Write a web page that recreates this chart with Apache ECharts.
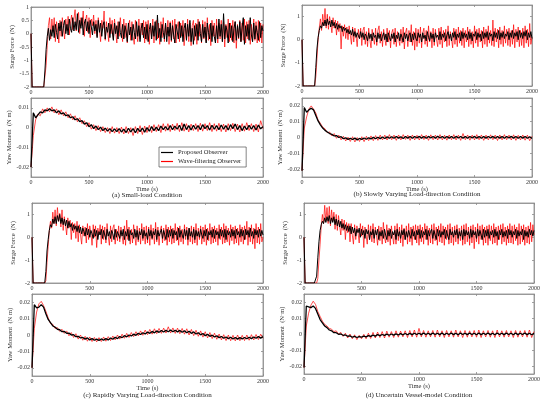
<!DOCTYPE html>
<html>
<head>
<meta charset="utf-8">
<script src="https://cdn.jsdelivr.net/npm/echarts@6/dist/echarts.min.js"></script>
<style>
html, body { margin: 0; padding: 0; background: #fff; }
#chart { width: 550px; height: 402px; }
</style>
</head>
<body>
<div id="chart"></div>
<script>
var surgeDt = 10;   // s between surge samples
var yawDt = 20;     // s between yaw samples
// yaw arrays are written in 10^-3 N·m
var yawUnit = 0.001;

var seriesNames = ['Proposed Observer', 'Wave-filtering Observer'];
var captions = [
  '(a) Small-load Condition',
  '(b) Slowly Varying Load-direction Condition',
  '(c) Rapidly Varying Load-direction Condition',
  '(d) Uncertain Vessel-model Condition'
];
var timeTicks = [0, 500, 1000, 1500, 2000];
var surgeTicksA = [-2, -1.5, -1, -0.5, 0, 0.5, 1];
var surgeTicks = [-2, -1, 0, 1];
var yawTicksA = [-0.02, -0.01, 0, 0.01];
var yawTicks = [-0.02, -0.01, 0, 0.01, 0.02];

// (a) small load
var aSurgeProp = [
  0,-2,-2,-2,-2,-2,-2,-2,-2,-2,-2,-2,-1.4,-0.6,-0.1,0.2,-0.25,0.15,-0.1,0.3,
  -0.15,0.35,0.05,-0.2,0.4,0.1,0.45,-0.1,0.3,0.5,0,0.35,-0.05,0.55,0.2,0.05,0.6,0.1,0.45,0.15,
  0.75,0.05,0.5,0.2,0.6,-0.05,0.4,0.55,0.1,0.45,0,0.5,0.25,-0.05,0.45,0.1,0.35,-0.15,0.5,0.05,
  0.4,-0.1,0.3,0.45,-0.2,0.25,0.05,0.4,-0.15,0.35,0.1,-0.25,0.4,0,0.3,-0.2,0.45,0.05,-0.15,0.35,
  -0.2,0.3,0.1,-0.3,0.4,-0.05,0.25,-0.25,0.35,0.05,-0.2,0.45,-0.1,0.3,-0.3,0.2,0.4,-0.15,0.25,-0.2,
  0.35,-0.3,0.15,0.4,-0.2,0.3,-0.1,0.45,-0.25,0.7,-0.15,0.2,-0.3,0.35,0.05,-0.2,0.4,-0.3,0.25,-0.1,
  0.4,-0.25,0.3,-0.05,-0.35,0.35,0.1,-0.2,0.45,-0.15,0.3,-0.3,0.2,0.4,-0.25,0.35,-0.1,0.5,-0.3,0.2,
  -0.4,0.3,-0.1,0.35,-0.25,0.45,0,-0.3,0.35,-0.15,0.25,-0.35,0.4,0.05,-0.2,0.4,-0.3,0.3,-0.1,-0.35,
  0.3,-0.2,0.55,-0.1,0.35,-0.3,0.75,-0.2,0.3,0.1,-0.35,0.4,-0.15,0.3,-0.3,0.2,0.45,-0.25,0.3,-0.15,
  0.45,-0.3,0.25,0.6,-0.4,0.3,-0.1,0.35,-0.25,0.6,-0.05,-0.3,0.4,-0.2,0.3,0.05,-0.25,0.45,-0.15,0.3,
  0.1
];
var aSurgeWave = [
  0,-2,-2,-2,-2,-2,-2,-2,-2,-2,-2,-2,-2,-1.2,-0.45,0.3,0.6,-0.2,0.55,0.05,
  0.6,-0.3,0.45,0.1,-0.35,0.5,-0.1,0.6,0.2,-0.2,0.55,0.1,0.65,-0.05,0.4,0.7,0.15,0.55,0.9,0.1,
  0.5,0.8,0,0.6,0.3,0.85,-0.1,0.5,0.7,0.05,0.6,-0.15,0.55,0.3,0.7,0,0.5,-0.1,0.6,0.15,
  -0.3,0.5,0.2,0.85,-0.25,0.45,0.1,-0.3,0.6,0,0.5,-0.2,0.55,0.1,-0.35,0.45,-0.1,0.6,0.05,-0.3,
  0.55,-0.15,0.4,-0.35,0.3,0.5,-0.25,0.45,-0.1,-0.4,0.5,0.05,-0.3,0.55,-0.2,0.4,-0.05,0.5,-0.35,0.45,
  -0.25,0.5,-0.4,0.35,-0.1,0.55,-0.35,0.3,0.5,-0.2,0.4,-0.4,0.45,-0.15,0.6,-0.3,0.35,-0.05,0.5,-0.4,
  0.45,-0.3,0.5,-0.2,0.55,-0.35,0.25,0.45,-0.3,0.4,-0.1,0.5,-0.45,0.35,-0.2,0.55,-0.3,0.4,-0.45,0.3,
  0.5,-0.25,0.4,-0.4,0.55,-0.1,0.35,-0.35,0.5,-0.2,0.45,-0.3,0.6,-0.25,0.35,-0.45,0.5,-0.1,0.4,-0.3,
  0.55,-0.35,0.4,-0.2,0.5,-0.3,0.45,-0.5,0.35,-0.15,0.55,-0.3,0.4,-0.25,0.5,-0.35,0.45,-0.55,0.35,-0.2,
  0.5,-0.3,0.4,-0.25,0.55,-0.35,0.45,-0.2,0.5,-0.4,0.35,-0.3,0.55,-0.25,0.45,-0.35,0.5,-0.3,0.4,-0.35,
  0.35
];
var aYawProp = [
  -20,7.5,5,6.5,8,7.5,9,8.5,9.5,8.5,
  9,7.5,8.5,7,7.5,6,6.5,5,5.5,4,
  4.5,3,3.5,1.8,2.5,0.5,1.5,-0.5,0.8,-1,
  0.2,-1.5,-0.3,-1.8,-0.5,-2,-0.6,-2,-0.5,-2.2,
  -0.8,-2.5,-0.3,-2.2,-0.5,-2.6,-0.4,-2,-0.2,-2.3,
  0,-1.8,0.5,-1.5,0.3,-1.5,0.8,-1,0.5,-1.2,
  1,-1,0.8,-0.8,1.2,-1.5,1.8,-1,1,-1.2,
  1.2,-0.8,1,-1,1.5,-0.5,1,-1.2,1.2,-0.8,
  1,-1,1.3,-0.8,1,-1.2,1.5,-0.5,1.8,-1,
  1,-1.5,0.8,-1,1.2,-0.8,1,-1.2,1.3,-0.6,
  0.5
];
var aYawWave = [
  -20,-4,4,7,6,9.5,7.5,10,8,10.5,
  7.5,9.5,6.5,9,6,8,5,7,4,6,
  3,5,2,3.5,0.5,2.5,-0.8,1.5,-1.5,1,
  -2,0.5,-2.5,0,-3,0.5,-2.8,0,-3,0.3,
  -3.2,0.5,-3,0,-4,0.5,-3,1,-3.5,0.8,
  -2.5,1.2,-2.5,1.5,-2,1.5,-2.5,2,-1.8,2,
  -2,1.8,-1.5,2.2,-2,2.5,-1.8,2,-2.2,1.8,
  -1.5,2,-2,2.2,-1.8,2,-1.5,2.5,-2,2,
  -1.8,2.2,-2,1.8,-2.2,2,-1.5,2.2,-2,1.8,
  -2.2,2,-1.8,2.5,-1.5,2,-2,1.8,-2.2,3.5,
  -0.5
];

// (b) slowly varying load direction
var bSurgeProp = [
  0,-2,-2,-2,-2,-2,-2,-2,-2,-2,-2,-2,-1.2,-0.4,0.1,0.4,0.6,0.5,0.75,0.6,
  0.85,0.6,0.9,0.65,0.8,0.55,0.85,0.6,0.75,0.5,0.7,0.45,0.65,0.5,0.6,0.35,0.55,0.4,0.5,0.3,
  0.45,0.25,0.4,0.2,0.45,0.15,0.35,0.1,0.3,0.25,0.05,0.35,0.1,0.3,0,0.25,0.15,-0.05,0.3,0.05,
  0.25,-0.05,0.3,0.1,0.2,-0.1,0.3,0.05,0.25,-0.05,0.15,0.3,0,0.25,-0.1,0.3,0.1,-0.05,0.25,0.05,
  0.3,-0.1,0.2,0.05,0.3,-0.05,0.25,0.1,-0.1,0.3,0.05,0.25,-0.05,0.2,0.3,-0.1,0.25,0,0.3,0.05,
  -0.05,0.3,0.1,0.25,-0.1,0.3,0.05,0.2,-0.05,0.35,0.1,-0.05,0.3,0.05,0.25,-0.1,0.3,0.1,0.2,0,
  0.35,0,0.25,0.1,0.3,-0.05,0.2,0.35,0.05,0.25,-0.05,0.3,0.1,0.35,0,0.25,0.1,0.3,-0.05,0.35,
  0.05,0.3,0.1,0.25,0,0.35,0.05,0.3,-0.05,0.25,0.15,0.35,0,0.3,0.1,0.25,-0.05,0.35,0.05,0.3,
  0.1,0.35,0,0.3,0.15,0.25,-0.05,0.35,0.1,0.3,0.05,0.4,0,0.3,0.1,0.35,0.05,0.25,0.15,0.35,
  0,0.3,0.1,0.4,0.05,0.3,0.15,0.35,0,0.4,0.1,0.3,0.05,0.35,0.15,0.4,0,0.3,0.1,0.35,
  0.05
];
var bSurgeWave = [
  0,-2,-2,-2,-2,-2,-2,-2,-2,-2,-2,-2,-1.6,-0.8,0,0.5,0.9,0.4,1.1,0.6,
  1.35,0.5,1.1,0.45,1,0.7,0.3,0.95,0.5,0.85,0.2,0.8,0.35,0.7,-0.4,0.6,0.15,0.65,0.05,0.55,
  0,0.6,0.2,-0.2,0.55,-0.1,0.5,0.15,-0.3,0.45,0.05,0.5,-0.25,0.4,0.55,-0.2,0.35,-0.3,0.5,0,
  -0.35,0.45,0.1,-0.2,0.5,-0.25,0.4,0.6,-0.15,0.35,-0.3,0.45,0.05,-0.25,0.5,-0.1,0.4,-0.35,0.3,0.45,
  -0.2,0.5,-0.3,0.35,0.05,-0.25,0.45,-0.15,0.55,-0.4,0.3,0.5,-0.3,0.4,-0.1,0.65,-0.25,0.35,-0.45,0.5,
  -0.3,0.45,-0.15,0.55,-0.35,0.3,0.5,-0.2,0.4,-0.3,0.6,-0.1,0.35,-0.35,0.5,-0.25,0.45,0,-0.3,0.5,
  -0.2,0.55,-0.35,0.4,-0.1,0.45,-0.3,0.6,-0.25,0.35,0.05,-0.35,0.5,-0.2,0.45,-0.3,0.55,-0.15,0.4,-0.25,
  0.5,-0.35,0.4,-0.1,0.55,-0.3,0.45,-0.2,0.35,-0.35,0.6,-0.15,0.45,-0.3,0.5,-0.1,0.4,-0.35,0.55,-0.2,
  0.45,-0.3,0.6,-0.15,0.4,-0.25,0.85,-0.3,0.5,-0.1,0.45,-0.35,0.55,-0.2,0.4,-0.3,0.6,-0.15,0.45,-0.25,
  0.5,-0.3,0.4,-0.2,0.65,-0.35,0.45,-0.1,0.55,-0.3,0.4,-0.25,0.5,-0.35,0.6,-0.15,0.45,-0.3,0.7,-0.2,
  0.1
];
var bYawProp = [
  -21,19,16,17.5,18.5,17.5,14,10.5,8,6,
  4.5,3.5,2.5,2,1,1.2,0,0.5,-0.8,-0.2,
  -1.2,-0.5,-1.3,-0.4,-1.5,-0.6,-1.2,-0.3,-1.1,-0.2,
  -0.9,0.1,-0.8,0.2,-0.7,0.3,-0.6,0.4,-0.5,0.5,
  -0.5,0.6,-0.4,0.5,-0.6,0.6,-0.4,0.7,-0.5,0.6,
  -0.3,0.7,-0.4,0.6,-0.5,0.7,-0.3,0.6,-0.4,0.8,
  -0.3,0.6,-0.5,0.7,-0.4,0.6,-0.5,0.7,-0.3,0.6,
  -0.4,0.7,-0.5,0.6,-0.3,0.7,-0.4,0.6,-0.5,0.7,
  -0.4,0.6,-0.3,0.7,-0.5,0.6,-0.4,0.7,-0.5,0.6,
  -0.3,0.7,-0.4,0.6,-0.5,0.7,-0.4,0.6,-0.5,0.5,
  -0.6
];
var bYawWave = [
  -21,6,13,18,20,18,15.5,11,9,6.5,
  5.5,3,3.5,1,2.5,-0.5,1.5,-1.5,0.8,-2.2,
  0.2,-2.5,0.5,-2.8,0,-2.5,0.5,-2.6,0.8,-2,
  1,-2,1.2,-1.8,1.5,-1.5,1.5,-1.6,1.8,-1.4,
  1.5,-1.8,1.6,-1.5,1.8,-1.2,1.5,-1.8,1.6,-1.5,
  1.4,-1.6,1.8,-1.3,1.5,-1.8,1.7,-1.4,1.5,-1.6,
  1.8,-1.5,1.4,-1.7,1.6,-1.4,1.8,-1.5,1.5,-1.8,
  2.5,-1.4,1.6,-1.7,1.5,-1.5,1.8,-1.4,1.6,-1.8,
  1.5,-1.5,1.7,-1.4,1.5,-1.9,1.6,-1.5,1.8,-1.4,
  1.5,-1.6,1.7,-1.8,1.4,-1.5,1.6,-1.7,1.5,-2,
  0.8
];

// (c) rapidly varying load direction
var cSurgeProp = [
  0,-2,-2,-2,-2,-2,-2,-2,-2,-2,-2,-2,-1.5,-0.6,-0.1,0.3,0.55,0.45,0.8,0.6,
  0.9,0.6,0.95,0.7,1,0.6,0.85,0.55,0.8,0.5,0.75,0.4,0.7,0.45,0.6,0.3,0.55,0.35,0.5,0.25,
  0.5,0.2,0.45,0.15,0.4,0.25,0.05,0.4,0.1,0.35,0,0.3,0.15,-0.05,0.35,0.05,0.3,-0.1,0.25,0.1,
  0.35,-0.05,0.3,0.1,-0.1,0.35,0.05,0.25,-0.05,0.3,0.15,-0.1,0.35,0,0.25,0.1,-0.05,0.3,0.05,0.35,
  -0.1,0.25,0.05,0.35,-0.15,0.3,0.1,0.2,-0.05,0.35,0,0.3,-0.1,0.25,0.1,0.35,-0.05,0.3,0.05,0.2,
  -0.1,0.35,0.05,0.3,-0.05,0.25,0.1,0.35,-0.1,0.3,0.05,0.2,0.35,-0.05,0.3,0.1,-0.1,0.35,0,0.3,
  0.05,0.35,-0.05,0.3,0.1,0.25,-0.1,0.4,0,0.3,0.1,-0.05,0.35,0.05,0.3,-0.1,0.4,0.05,0.25,0,
  0.35,-0.1,0.3,0.05,0.25,0,0.35,0.1,-0.05,0.3,0.05,0.35,-0.1,0.25,0.1,0.3,0,0.35,-0.05,0.3,
  0.1,0.25,-0.05,0.35,0.05,0.3,0,0.35,-0.1,0.3,0.1,0.25,0,0.35,0.05,0.3,-0.05,0.35,0.1,0.25,
  0,0.35,0.05,0.3,-0.1,0.35,0.1,0.3,0,0.4,0.05,0.25,-0.05,0.35,0.1,0.3,0,0.35,0.05,0.3,
  0.1
];
var cSurgeWave = [
  0,-2,-2,-2,-2,-2,-2,-2,-2,-2,-2,-2,-1.9,-1.1,-0.4,0.3,0.7,0.4,1.1,0.6,
  1.2,0.5,1.3,0.7,1.05,0.45,1.2,0.3,0.9,0.55,0.1,0.85,0.4,0.75,-0.1,0.65,0.2,0.6,-0.05,0.7,
  -0.2,0.55,0.1,-0.3,0.5,0.05,0.45,-0.25,0.6,-0.1,0.5,0.2,-0.35,0.55,0,0.5,-0.45,0.4,0.1,0.55,
  -0.3,0.5,-0.1,0.45,-0.25,0.6,0.05,-0.35,0.5,-0.2,0.4,0.55,-0.3,0.35,-0.15,0.5,-0.2,0.45,0.05,-0.3,
  0.5,-0.35,0.75,-0.1,0.45,-0.3,0.35,-0.25,0.55,0.05,-0.35,0.5,-0.2,0.4,-0.3,0.6,-0.15,0.45,-0.3,0.5,
  -0.25,0.45,-0.35,0.55,-0.1,0.4,-0.3,0.65,-0.2,0.45,-0.35,0.3,0.5,-0.25,0.4,-0.15,0.55,-0.35,0.45,-0.2,
  0.5,-0.3,0.4,-0.25,0.6,-0.15,0.45,-0.35,0.5,-0.2,0.35,-0.3,0.55,-0.1,0.45,-0.35,0.4,-0.2,0.5,-0.3,
  0.45,-0.25,0.6,-0.35,0.4,-0.1,0.5,-0.3,0.45,-0.2,0.55,-0.35,0.4,-0.15,0.6,-0.3,0.45,-0.25,0.5,-0.2,
  0.4,-0.35,0.55,-0.1,0.45,-0.3,0.6,-0.25,0.5,-0.2,0.4,-0.35,0.55,-0.15,0.45,-0.3,0.5,-0.25,0.4,-0.35,
  0.55,-0.2,0.45,-0.3,0.5,-0.1,0.7,-0.35,0.45,-0.2,0.55,-0.3,0.4,-0.5,0.6,-0.25,0.45,-0.3,0.6,-0.2,
  0
];
var cYawProp = [
  -20,18.5,16.5,17,18.5,17,13,9.5,7.5,5.5,
  4.8,3.5,3.2,2,2.2,1,1.2,0,0.2,-1,
  -0.8,-1.8,-1.5,-2.5,-1.8,-3,-2.2,-3.2,-2.5,-3.3,
  -2.4,-3.2,-2.2,-3,-1.8,-2.6,-1.4,-2.2,-0.9,-1.6,
  -0.4,-1.1,0,-0.6,0.5,-0.2,1,0.3,1.4,0.6,
  1.8,1,2.2,1.3,2.5,1.6,2.8,1.8,2.9,2,
  3,2,2.9,1.9,2.8,1.7,2.6,1.4,2.3,1,
  1.9,0.6,1.4,0.1,0.9,-0.4,0.4,-0.8,-0.1,-1.2,
  -0.5,-1.6,-0.9,-2,-1.2,-2.2,-1.4,-2.4,-1.5,-2.5,
  -1.6,-2.4,-1.5,-2.3,-1.4,-2.2,-1.2,-2,-1,-1.9,
  -1
];
var cYawWave = [
  -20,4,14,19,20.5,18,14.5,10.5,7,6.5,
  4,4.5,2.2,3.5,1,2.5,-0.5,1.5,-1.5,0.8,
  -2.5,0,-3.2,-0.8,-3.8,-1.2,-4,-1.5,-4.2,-1.6,
  -4,-1.2,-3.8,-1,-3.4,-0.6,-3,0,-2.5,0.5,
  -2,1,-1.5,1.5,-1,2,-0.5,2.5,-0.2,3,
  0.2,3.4,0.5,3.8,0.8,4,1,4.2,1.2,5,
  1.2,4.3,1,4.2,0.8,4,0.5,3.8,0,3.4,
  -0.4,2.9,-0.8,2.5,-1.3,2,-1.8,1.5,-2.2,1.1,
  -2.6,0.6,-3,0.2,-3.4,0,-3.5,-0.2,-3.6,0,
  -3.5,-0.2,-3.4,0,-3.2,0.2,-3,0.3,-2.8,0.5,
  -2
];

// (d) uncertain vessel model
var dSurgeProp = [
  0,-2,-2,-2,-2,-2,-2,-2,-2,-2,-2,-1.7,-0.9,-0.2,0.3,0.55,0.7,0.6,0.85,0.65,
  0.9,0.7,0.95,0.6,0.85,0.65,0.9,0.55,0.8,0.5,0.75,0.45,0.7,0.4,0.6,0.35,0.55,0.3,0.5,0.25,
  0.5,0.15,0.45,0.2,0.4,0.05,0.35,0.2,0.4,0,0.35,0.1,0.3,-0.05,0.35,0.15,0.3,-0.1,0.25,0.1,
  0.35,-0.05,0.3,0.1,0.35,-0.1,0.25,0.05,0.3,-0.05,0.35,0.1,-0.1,0.3,0.05,0.35,-0.05,0.25,0.1,0.3,
  -0.1,0.35,0.05,0.25,-0.05,0.3,0.1,0.35,-0.1,0.25,0,0.3,0.1,-0.05,0.35,0.05,0.25,-0.1,0.3,0.1,
  0.35,-0.05,0.3,0,0.25,0.1,0.35,-0.1,0.3,0.05,0.25,0.35,-0.05,0.3,0.1,-0.1,0.35,0.05,0.3,0,
  0.25,0.1,0.35,-0.05,0.3,0.05,-0.1,0.35,0.1,0.25,0,0.3,0.1,0.35,-0.05,0.25,0.05,0.3,-0.1,0.35,
  0.05,0.3,0.1,0.25,-0.05,0.35,0,0.3,0.1,0.25,-0.05,0.35,0.05,0.3,0.1,-0.1,0.35,0,0.3,0.05,
  0.35,-0.05,0.25,0.1,0.3,0,0.35,0.05,0.25,-0.1,0.3,0.1,0.35,0,0.25,0.05,0.3,-0.05,0.35,0.1,
  0.3,0,0.25,0.1,0.35,-0.05,0.3,0.05,0.25,0.1,0.35,-0.1,0.3,0.05,0.25,0,0.35,0.1,0.3,0.05,
  0.3
];
var dSurgeWave = [
  0,-2,-2,-2,-2,-2,-2,-2,-2,-2,-2,-2,-1.8,-1,-0.3,0.5,1,0.6,1.4,0.7,
  1.3,0.6,1.35,0.5,1.2,0.7,1.1,0.35,1,0.3,0.95,0.5,0.1,0.8,0.3,0.75,-0.1,0.65,0.2,0.6,
  -0.2,0.6,0.1,-0.3,0.55,-0.1,0.5,0.2,-0.25,0.6,0.05,0.5,-0.45,0.45,0.1,-0.3,0.55,-0.1,0.5,-0.2,
  0.6,-0.25,0.45,0.1,-0.35,0.5,-0.15,0.45,-0.3,0.65,0,-0.25,0.55,-0.2,0.4,-0.35,0.5,0.05,-0.3,0.5,
  -0.3,0.6,-0.15,0.45,-0.25,0.55,-0.4,0.4,-0.1,0.5,-0.3,0.6,-0.2,0.45,-0.35,0.5,-0.1,0.55,-0.25,0.5,
  -0.35,0.55,-0.2,0.45,-0.3,0.6,-0.1,0.5,-0.35,0.4,-0.25,0.55,-0.3,0.6,-0.15,0.45,-0.35,0.5,-0.2,0.6,
  -0.25,0.5,-0.35,0.45,-0.1,0.55,-0.3,0.6,-0.25,0.45,-0.35,0.5,-0.2,0.55,-0.3,0.4,-0.15,0.5,-0.35,0.55,
  -0.3,0.6,-0.2,0.45,-0.35,0.5,-0.25,0.55,-0.5,0.45,-0.2,0.6,-0.3,0.5,-0.1,0.55,-0.35,0.45,-0.25,0.5,
  -0.35,0.55,-0.15,0.5,-0.3,0.6,-0.25,0.45,-0.35,0.5,-0.1,0.55,-0.3,0.6,-0.2,0.45,-0.35,0.5,-0.25,0.6,
  -0.25,0.5,-0.3,0.55,-0.15,0.45,-0.35,0.6,-0.3,0.5,-0.2,0.55,-0.35,0.45,-0.25,0.5,-0.3,0.65,-0.2,0.55,
  0.1
];
var dYawProp = [
  -21,17.5,17,16.5,17.5,16,12.5,9,7,5,
  4,2.5,2,0.8,0.8,-0.2,0,-0.8,-0.6,-1.4,
  -1.2,-2,-1.5,-2.2,-1.6,-2,-1.3,-1.8,-1,-1.5,
  -0.7,-1.3,-0.4,-1,-0.3,-0.9,-0.1,-0.8,0,-0.7,
  0.1,-0.6,0.2,-0.5,0.3,-0.5,0.4,-0.4,0.5,-0.3,
  0.5,-0.4,0.6,-0.3,0.5,-0.4,0.6,-0.3,0.5,-0.4,
  0.6,-0.5,0.5,-0.3,0.6,-0.4,0.5,-0.5,0.6,-0.3,
  0.5,-0.4,0.6,-0.3,0.5,-0.5,0.6,-0.4,0.5,-0.3,
  0.6,-0.4,0.5,-0.5,0.6,-0.3,0.5,-0.4,0.6,-0.3,
  0.5,-0.5,0.6,-0.4,0.5,-0.3,0.6,-0.4,0.5,-0.5,
  0.4
];
var dYawWave = [
  -21,5,13,18,20.5,18.5,14,11,8,6,
  5,3.5,3,1.5,2,0,1,-1.5,0.5,-2.5,
  0,-3,-0.5,-3.5,-0.8,-3,-0.2,-3,0.5,-2.8,
  1,-2.5,1.2,-2.2,1.5,-2.5,1.8,-2,1.5,-2.2,
  2,-2,1.8,-1.8,2,-2.2,2.2,-1.8,2.5,-2,
  3.5,-1.8,2.2,-2,2,-1.8,2.2,-2,2.5,-1.8,
  2,-2.2,2.2,-1.8,2,-2,2.5,-1.8,2,-2.2,
  2.2,-2,2,-1.8,2.2,-2,2.5,-2.2,2,-1.8,
  2.2,-2,2,-2.2,2.5,-1.8,2,-2,2.2,-1.8,
  2,-2.2,2.2,-2,2,-1.8,2.2,-2,2.5,-2.2,
  1.5
];

var FONT = '"Liberation Serif", "Times New Roman", serif';
var AXIS_GREY = '#8a8a8a';
var TEXT = '#333';

function toPairs(vals, step, scale) {
  return vals.map(function (v, i) { return [i * step, v * scale]; });
}

// one entry per sub-plot: surge on top, yaw below, panels a..d
var plots = [
  { box: [31, 7, 232, 80],    prop: aSurgeProp, wave: aSurgeWave, step: surgeDt, scale: 1, range: [-2, 1], ticks: surgeTicksA, name: 'Surge Force  (N)', time: false },
  { box: [31, 98, 232, 79],   prop: aYawProp, wave: aYawWave, step: yawDt, scale: yawUnit, range: [-0.025, 0.015], ticks: yawTicksA, name: 'Yaw Moment  (N m)', time: true },
  { box: [302, 5, 230, 81],   prop: bSurgeProp, wave: bSurgeWave, step: surgeDt, scale: 1, range: [-2, 1.5], ticks: surgeTicks, name: 'Surge Force  (N)', time: false },
  { box: [302, 98, 230, 79],  prop: bYawProp, wave: bYawWave, step: yawDt, scale: yawUnit, range: [-0.025, 0.025], ticks: yawTicks, name: 'Yaw Moment  (N·m)', time: true },
  { box: [32, 203, 231, 80],  prop: cSurgeProp, wave: cSurgeWave, step: surgeDt, scale: 1, range: [-2, 1.5], ticks: surgeTicks, name: 'Surge Force  (N)', time: false },
  { box: [32, 294, 231, 82],  prop: cYawProp, wave: cYawWave, step: yawDt, scale: yawUnit, range: [-0.025, 0.025], ticks: yawTicks, name: 'Yaw Moment  (N m)', time: true },
  { box: [304, 203, 230, 80], prop: dSurgeProp, wave: dSurgeWave, step: surgeDt, scale: 1, range: [-2, 1.5], ticks: surgeTicks, name: 'Surge Force  (N)', time: false },
  { box: [304, 294, 230, 80], prop: dYawProp, wave: dYawWave, step: yawDt, scale: yawUnit, range: [-0.025, 0.025], ticks: yawTicks, name: 'Yaw Moment  (N·m)', time: true }
];

var captionPos = [[147, 195], [417, 194.5], [147.5, 395], [419, 395]];

var grids = [], xAxes = [], yAxes = [], series = [];
var lineAxis = { show: true, onZero: false, lineStyle: { color: AXIS_GREY, width: 0.8 } };
var tickStyle = { color: AXIS_GREY, width: 0.8 };
function plain(v) { return String(v); }

plots.forEach(function (p, i) {
  grids.push({ left: p.box[0], top: p.box[1], width: p.box[2], height: p.box[3],
    show: true, borderColor: AXIS_GREY, borderWidth: 0.8 });

  xAxes.push({
    type: 'value', gridIndex: i, min: 0, max: 2000, position: 'bottom',
    axisLine: lineAxis,
    axisTick: { inside: true, length: 2, customValues: timeTicks, lineStyle: tickStyle },
    axisLabel: { customValues: timeTicks, formatter: plain, fontSize: 6, color: TEXT, margin: 2, fontFamily: FONT },
    splitLine: { show: false },
    name: p.time ? 'Time (s)' : '', nameLocation: 'middle', nameGap: 8,
    nameTextStyle: { fontSize: 6.5, color: TEXT, fontFamily: FONT }
  });
  xAxes.push({
    type: 'value', gridIndex: i, min: 0, max: 2000, position: 'top',
    axisLine: lineAxis,
    axisTick: { inside: true, length: 2, customValues: timeTicks, lineStyle: tickStyle },
    axisLabel: { show: false }, splitLine: { show: false }
  });

  yAxes.push({
    type: 'value', gridIndex: i, min: p.range[0], max: p.range[1], position: 'left',
    axisLine: lineAxis,
    axisTick: { inside: true, length: 2, customValues: p.ticks, lineStyle: tickStyle },
    axisLabel: { customValues: p.ticks, formatter: plain, fontSize: 6, color: TEXT, margin: 2, fontFamily: FONT },
    splitLine: { show: false },
    name: p.name, nameLocation: 'middle', nameRotate: 90, nameGap: 15,
    nameTextStyle: { fontSize: 6.5, color: TEXT, fontFamily: FONT }
  });
  yAxes.push({
    type: 'value', gridIndex: i, min: p.range[0], max: p.range[1], position: 'right',
    axisLine: lineAxis,
    axisTick: { inside: true, length: 2, customValues: p.ticks, lineStyle: tickStyle },
    axisLabel: { show: false }, splitLine: { show: false }
  });

  var isYaw = p.scale !== 1;
  // red underneath, black on top
  series.push({
    type: 'line', name: seriesNames[1], xAxisIndex: 2 * i, yAxisIndex: 2 * i,
    data: toPairs(p.wave, p.step, p.scale), symbol: 'none', color: '#ff0000',
    lineStyle: { width: 0.7, color: '#ff0000' }, z: 2, animation: false
  });
  series.push({
    type: 'line', name: seriesNames[0], xAxisIndex: 2 * i, yAxisIndex: 2 * i,
    data: toPairs(p.prop, p.step, p.scale), symbol: 'none', color: '#000000',
    lineStyle: { width: isYaw ? 1.3 : 1, color: '#000000' }, z: 3, animation: false
  });
});

var chart = echarts.init(document.getElementById('chart'), null, { renderer: 'canvas' });
chart.setOption({
  animation: false,
  backgroundColor: '#fff',
  grid: grids,
  xAxis: xAxes,
  yAxis: yAxes,
  series: series,
  legend: {
    data: seriesNames, orient: 'vertical', left: 159, top: 147,
    icon: 'rect', itemWidth: 12, itemHeight: 1.2, itemGap: 2,
    padding: [2, 5, 2, 2],
    borderColor: '#333', borderWidth: 0.6, backgroundColor: '#fff',
    textStyle: { fontSize: 6.5, color: '#222', fontFamily: FONT }
  },
  graphic: captions.map(function (c, k) {
    return {
      type: 'text', x: captionPos[k][0], y: captionPos[k][1], silent: true,
      style: { text: c, textAlign: 'center', textVerticalAlign: 'middle',
        fontSize: 7, fontFamily: FONT, fill: '#222' }
    };
  })
});
</script>
</body>
</html>
